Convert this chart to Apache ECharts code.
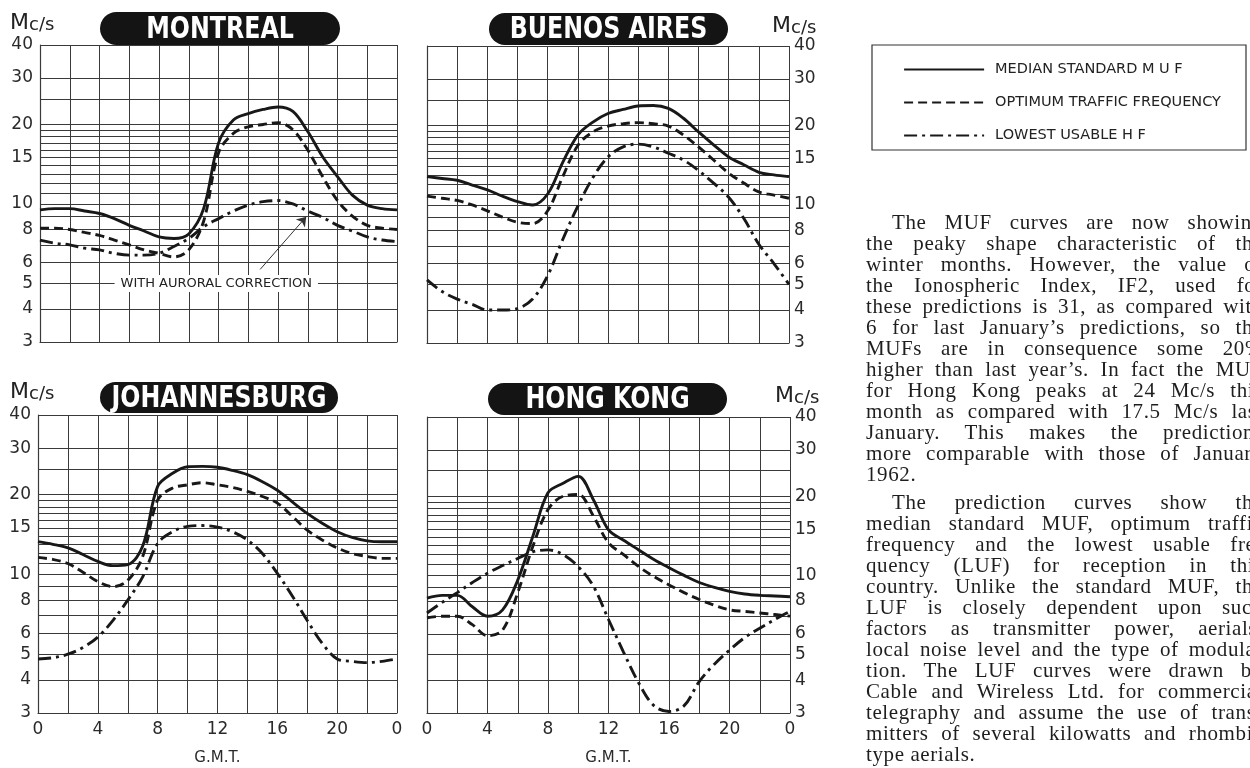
<!DOCTYPE html>
<html>
<head>
<meta charset="utf-8">
<script src="https://cdn.jsdelivr.net/npm/echarts@6.0.0/dist/echarts.min.js"></script>
<style>
  html, body { margin: 0; padding: 0; background: #fff; overflow: hidden; width: 1250px; height: 768px; }
  #chart { position: absolute; left: 0; top: 0; width: 1250px; height: 768px; }
  #article { position: absolute; left: 866px; top: 212px; width: 397px; font-family: 'Liberation Serif', 'DejaVu Serif', serif; font-size: 21px; letter-spacing: 0.6px; line-height: 21px; color: #1e1e1e; z-index: 2; }
  #article div { white-space: nowrap; text-align: justify; text-align-last: justify; }
  #article div.last { text-align-last: left; }
  #article div.ind { padding-left: 26px; }
  #article .p2 { margin-top: 7px; }
</style>
</head>
<body>
<div id="chart"></div>
<div id="article">
  <div class="ind">The MUF curves are now showing</div>
  <div>the peaky shape characteristic of the</div>
  <div>winter months. However, the value of</div>
  <div>the Ionospheric Index, IF2, used for</div>
  <div>these predictions is 31, as compared with</div>
  <div>6 for last January’s predictions, so the</div>
  <div>MUFs are in consequence some 20%</div>
  <div>higher than last year’s. In fact the MUF</div>
  <div>for Hong Kong peaks at 24 Mc/s this</div>
  <div>month as compared with 17.5 Mc/s last</div>
  <div>January. This makes the predictions</div>
  <div>more comparable with those of January</div>
  <div class="last">1962.</div>
  <div class="ind p2">The prediction curves show the</div>
  <div>median standard MUF, optimum traffic</div>
  <div>frequency and the lowest usable fre-</div>
  <div>quency (LUF) for reception in this</div>
  <div>country. Unlike the standard MUF, the</div>
  <div>LUF is closely dependent upon such</div>
  <div>factors as transmitter power, aerials,</div>
  <div>local noise level and the type of modula-</div>
  <div>tion. The LUF curves were drawn by</div>
  <div>Cable and Wireless Ltd. for commercial</div>
  <div>telegraphy and assume the use of trans-</div>
  <div>mitters of several kilowatts and rhombic</div>
  <div class="last">type aerials.</div>
</div>
<script>
// ---------------- data ----------------
const HOURS = [0,1,2,3,4,5,6,7,8,9,10,11,12,13,14,15,16,17,18,19,20,21,22,23,24];

const SERIES_NAMES = ['MEDIAN STANDARD M U F', 'OPTIMUM TRAFFIC FREQUENCY', 'LOWEST USABLE H F'];
const CITY_NAMES = ['MONTREAL', 'BUENOS AIRES', 'JOHANNESBURG', 'HONG KONG'];

const montrealMuf = [9.5,9.6,9.6,9.4,9.2,8.8,8.3,7.9,7.5,7.4,7.7,9.6,17.0,20.8,22.0,22.8,23.3,22.4,18.8,15.1,12.7,10.8,9.9,9.6,9.5];
const montrealOtf = [8.1,8.1,8.0,7.8,7.6,7.3,7.0,6.7,6.5,6.3,6.7,8.6,15.6,18.5,19.6,20.0,20.3,19.1,16.0,12.7,10.3,9.0,8.3,8.1,8.0];
const montrealLuf = [7.3,7.1,7.0,6.8,6.7,6.5,6.4,6.4,6.5,6.9,7.4,8.2,8.8,9.4,9.9,10.2,10.3,10.0,9.4,8.9,8.3,7.9,7.5,7.3,7.2];

const buenosMuf = [12.8,12.6,12.4,11.9,11.4,10.8,10.3,10.0,11.0,14.5,18.4,20.6,22.2,23.0,23.7,23.8,23.2,21.3,18.9,16.9,15.2,14.2,13.3,13.0,12.8];
const buenosOtf = [10.8,10.6,10.4,10.0,9.5,9.0,8.6,8.5,9.5,12.8,16.8,18.9,19.9,20.3,20.5,20.3,19.9,18.4,16.6,14.8,13.2,12.1,11.2,10.9,10.6];
const buenosLuf = [5.2,4.7,4.4,4.2,4.0,4.0,4.05,4.4,5.4,7.4,9.9,12.7,15.2,16.6,17.0,16.6,15.7,14.8,13.5,12.1,10.7,8.9,7.1,6.0,5.0];

const joburgMuf = [13.3,13.0,12.6,11.9,11.2,10.8,10.9,12.8,21.5,24.1,25.5,25.6,25.4,24.7,23.8,22.4,20.8,18.8,17.0,15.6,14.5,13.8,13.4,13.3,13.3];
const joburgOtf = [11.6,11.4,11.0,10.2,9.4,9.0,9.5,11.7,19.1,21.2,21.8,22.2,21.8,21.3,20.6,19.7,18.6,16.6,14.7,13.5,12.6,12.0,11.7,11.5,11.5];
const joburgLuf = [4.8,4.85,5.0,5.3,5.8,6.7,8.0,9.8,13.1,14.5,15.2,15.3,15.1,14.5,13.5,12.0,10.1,8.3,6.7,5.5,4.8,4.7,4.65,4.7,4.8];

const hongkongMuf = [8.2,8.4,8.4,7.6,7.0,7.4,9.6,14.1,20.6,22.4,23.8,19.4,14.9,13.6,12.5,11.5,10.7,10.0,9.4,9.0,8.7,8.5,8.4,8.35,8.3];
const hongkongOtf = [6.9,7.0,7.0,6.5,5.9,6.2,8.6,12.9,17.8,20.0,20.3,16.8,13.3,12.0,10.8,9.9,9.2,8.6,8.1,7.7,7.4,7.3,7.2,7.1,7.0];
const hongkongLuf = [7.2,7.9,8.6,9.4,10.2,10.9,11.6,12.3,12.5,12.0,10.8,9.1,6.8,5.1,3.9,3.2,3.04,3.2,3.95,4.6,5.2,5.8,6.3,6.8,7.3];

const Y_GRID_VALUES = [3,4,5,6,7,8,9,10,11,12,13,14,15,16,17,18,19,20,25,30,40];
const Y_LABEL_VALUES = [3,4,5,6,8,10,15,20,30,40];
const X_LABEL_STEP = 4;

const AURORAL_TEXT = 'WITH AURORAL CORRECTION';
const auroralLabelAt = [11.85, 5];
const auroralArrowFrom = [14.8, 5.65];
const auroralArrowTo = [17.9, 8.95];

// ---------------- layout / style ----------------
const INK = '#181818';
const GRID_INK = '#3a3a3a';
const LABEL_FONT = "'DejaVu Sans', sans-serif";
const TITLE_FONT = "'DejaVu Sans Condensed', 'DejaVu Sans', sans-serif";

const panels = [
  { grid: {left: 40, top: 45, width: 357, height: 297}, side: 'left', showX: false,
    data: [montrealMuf, montrealOtf, montrealLuf],
    pill: {x: 100, y: 12, w: 240, h: 33}, unit: {left: 10, top: 12} },
  { grid: {left: 427, top: 46, width: 362, height: 297}, side: 'right', showX: false,
    data: [buenosMuf, buenosOtf, buenosLuf],
    pill: {x: 489, y: 13, w: 239, h: 32}, unit: {left: 772, top: 15} },
  { grid: {left: 38, top: 415, width: 359, height: 298}, side: 'left', showX: true,
    data: [joburgMuf, joburgOtf, joburgLuf],
    pill: {x: 100, y: 382, w: 238, h: 31}, unit: {left: 10, top: 381} },
  { grid: {left: 427, top: 417, width: 363, height: 296}, side: 'right', showX: true,
    data: [hongkongMuf, hongkongOtf, hongkongLuf],
    pill: {x: 488, y: 383, w: 239, h: 32}, unit: {left: 775, top: 385} }
];

const LINE_TYPES = ['solid', [9, 5], [13, 5, 3, 5]];

const grids = [], xAxes = [], yAxes = [], series = [], graphics = [];

panels.forEach((p, gi) => {
  grids.push(Object.assign({containLabel: false}, p.grid));
  xAxes.push({
    type: 'value', gridIndex: gi, min: 0, max: 24, interval: 2,
    axisLine: {show: true, lineStyle: {color: GRID_INK, width: 1.2}},
    axisTick: {show: false},
    splitLine: {show: true, lineStyle: {color: GRID_INK, width: 1}},
    axisLabel: {
      show: p.showX, margin: 8, color: '#2a2a2a', fontSize: 17, fontFamily: LABEL_FONT,
      formatter: v => (Math.round(v) % X_LABEL_STEP === 0 ? String(Math.round(v) % 24) : '')
    },
    name: p.showX ? 'G.M.T.' : '', nameLocation: 'middle', nameGap: 38,
    nameTextStyle: {color: '#2a2a2a', fontSize: 15, fontFamily: LABEL_FONT}
  });
  yAxes.push({
    type: 'log', logBase: 10, gridIndex: gi, min: 3, max: 40, position: p.side,
    axisLine: {show: true, lineStyle: {color: GRID_INK, width: 1.2}},
    axisTick: {show: false, customValues: Y_GRID_VALUES},
    splitLine: {show: true, lineStyle: {color: GRID_INK, width: 1}},
    axisLabel: {
      customValues: Y_LABEL_VALUES, margin: p.side === 'left' ? 7 : 5,
      color: '#2a2a2a', fontSize: 17, fontFamily: LABEL_FONT,
      formatter: v => String(Math.round(v))
    }
  });
  p.data.forEach((vals, si) => {
    const s = {
      name: SERIES_NAMES[si], type: 'line', xAxisIndex: gi, yAxisIndex: gi,
      data: HOURS.map((h, i) => [h, vals[i]]),
      smooth: 0.35, symbol: 'none', showSymbol: false, clip: true, z: 3,
      lineStyle: {color: INK, width: 2.9, type: LINE_TYPES[si], cap: 'butt'},
      itemStyle: {color: INK},
      emphasis: {disabled: true}, silent: true
    };
    if (gi === 0 && si === 2) {
      s.markLine = {
        silent: true, symbol: ['none', 'arrow'], symbolSize: 9,
        lineStyle: {type: 'solid', width: 1, color: '#333'},
        label: {show: false}, emphasis: {disabled: true},
        data: [[{coord: auroralArrowFrom}, {coord: auroralArrowTo}]]
      };
      s.markPoint = {
        silent: true, symbol: 'rect', symbolSize: 0,
        label: {show: true, formatter: AURORAL_TEXT, backgroundColor: '#fff', padding: [2, 6],
                color: '#222', fontSize: 13, fontFamily: LABEL_FONT},
        data: [{coord: auroralLabelAt}]
      };
    }
    series.push(s);
  });
  // title pill
  graphics.push({
    type: 'group', children: [
      {type: 'rect', shape: {x: p.pill.x, y: p.pill.y, width: p.pill.w, height: p.pill.h, r: p.pill.h / 2},
       style: {fill: '#141414'}},
      {type: 'text', x: p.pill.x + p.pill.w / 2, y: p.pill.y + p.pill.h / 2 + 1, scaleX: 0.85,
       style: {text: CITY_NAMES[gi], fill: '#fff', font: 'bold 31px ' + TITLE_FONT,
               align: 'center', verticalAlign: 'middle'}}
    ]
  });
  // unit label
  graphics.push({
    type: 'text', left: p.unit.left, top: p.unit.top,
    style: {text: '{a|M}{b|c/s}', rich: {
      a: {fontSize: 22, fontFamily: LABEL_FONT, fill: '#222', verticalAlign: 'bottom'},
      b: {fontSize: 18, fontFamily: LABEL_FONT, fill: '#222', verticalAlign: 'bottom'}}}
  });
});

// legend box
graphics.push({type: 'rect', shape: {x: 872, y: 45, width: 374, height: 105},
  style: {fill: 'none', stroke: '#333', lineWidth: 1.2}});

const chart = echarts.init(document.getElementById('chart'), null, {renderer: 'canvas'});
chart.setOption({
  backgroundColor: '#fff',
  animation: false,
  grid: grids,
  xAxis: xAxes,
  yAxis: yAxes,
  legend: {
    orient: 'vertical', left: 898, top: 57, itemWidth: 80, itemHeight: 14, itemGap: 18,
    selectedMode: false,
    data: SERIES_NAMES,
    itemStyle: {color: 'rgba(0,0,0,0)', borderWidth: 0, opacity: 0},
    lineStyle: {width: 2.2},
    textStyle: {fontFamily: LABEL_FONT, fontSize: 14.5, color: '#222', padding: [0, 0, 0, 6]}
  },
  graphic: graphics,
  series: series
});
</script>
</body>
</html>
